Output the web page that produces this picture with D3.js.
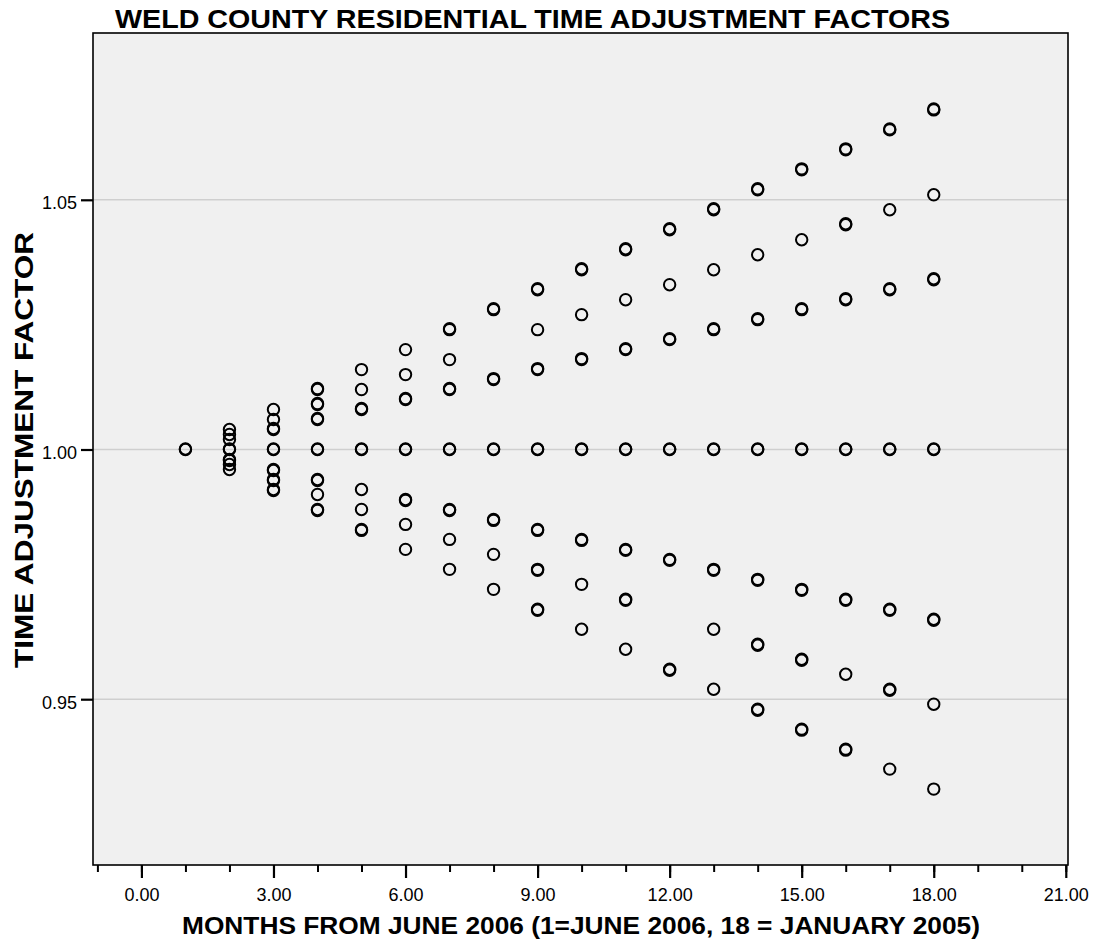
<!DOCTYPE html>
<html>
<head>
<meta charset="utf-8">
<script src="https://cdn.jsdelivr.net/npm/d3@7"></script>
<style>
  html, body { margin: 0; padding: 0; background: #ffffff; }
  svg { display: block; }
  text { font-family: Arial, "Liberation Sans", Helvetica, sans-serif; fill: #000; }
</style>
</head>
<body>
<svg id="chart" width="1096" height="943"></svg>
<script>
// ---- Data ----
const months = [1, 2, 3, 4, 5, 6, 7, 8, 9, 10, 11, 12, 13, 14, 15, 16, 17, 18];

const seriesUpperHigh = [null, 1.004, 1.008, 1.012, 1.016, 1.020, 1.024, 1.028, 1.032, 1.036, 1.040, 1.044, 1.048, 1.052, 1.056, 1.060, 1.064, 1.068];
const seriesUpperMid  = [null, 1.003, 1.006, 1.009, 1.012, 1.015, 1.018, null,  1.024, 1.027, 1.030, 1.033, 1.036, 1.039, 1.042, 1.045, 1.048, 1.051];
const seriesUpperLow  = [null, 1.002, 1.004, 1.006, 1.008, 1.010, 1.012, 1.014, 1.016, 1.018, 1.020, 1.022, 1.024, 1.026, 1.028, 1.030, 1.032, 1.034];
const seriesBase      = [1.000, 1.000, 1.000, 1.000, 1.000, 1.000, 1.000, 1.000, 1.000, 1.000, 1.000, 1.000, 1.000, 1.000, 1.000, 1.000, 1.000, 1.000];
const seriesLowerHigh = [null, 0.998, 0.996, 0.994, 0.992, 0.990, 0.988, 0.986, 0.984, 0.982, 0.980, 0.978, 0.976, 0.974, 0.972, 0.970, 0.968, 0.966];
const seriesLowerMid  = [null, 0.997, 0.994, 0.991, 0.988, 0.985, 0.982, 0.979, 0.976, 0.973, 0.970, null,  0.964, 0.961, 0.958, 0.955, 0.952, 0.949];
const seriesLowerLow  = [null, 0.996, 0.992, 0.988, 0.984, 0.980, 0.976, 0.972, 0.968, 0.964, 0.960, 0.956, 0.952, 0.948, 0.944, 0.940, 0.936, 0.932];

// repeated (near-identical) observations that make some markers look heavier: [month, value]
const repeatedObs = [
  [4,1.0122],[7,1.0242],[8,1.0282],[9,1.0322],[10,1.0362],[11,1.0402],[12,1.0442],[13,1.0482],[14,1.0522],[15,1.0562],[16,1.0602],[17,1.0642],[18,1.0682],
  [4,1.0092],[16,1.0452],
  [3,1.0042],[4,1.0062],[5,1.0082],[6,1.0102],[7,1.0122],[8,1.0142],[9,1.0162],[10,1.0182],[11,1.0202],[12,1.0222],[13,1.0242],[14,1.0262],[15,1.0282],[16,1.0302],[17,1.0322],[18,1.0342],
  [1,1.0001],[2,1.0001],[3,1.0001],[4,1.0001],[5,1.0001],[6,1.0001],[7,1.0001],[8,1.0001],[9,1.0001],[10,1.0001],[11,1.0001],[12,1.0001],[13,1.0001],[14,1.0001],[15,1.0001],[16,1.0001],[17,1.0001],[18,1.0001],
  [2,0.9978],[3,0.9958],[4,0.9938],[6,0.9898],[7,0.9878],[8,0.9858],[9,0.9838],[10,0.9818],[11,0.9798],[12,0.9778],[13,0.9758],[14,0.9738],[15,0.9718],[16,0.9698],[17,0.9678],[18,0.9658],
  [3,0.9938],[9,0.9758],[11,0.9698],[14,0.9608],[15,0.9578],[17,0.9518],
  [3,0.9918],[4,0.9878],[5,0.9838],[9,0.9678],[12,0.9558],[14,0.9478],[15,0.9438],[16,0.9398]
];

const xTickValues = [0, 3, 6, 9, 12, 15, 18, 21];
const xMinorTickValues = [-1, 0, 1, 2, 3, 4, 5, 6, 7, 8, 9, 10, 11, 12, 13, 14, 15, 16, 17, 18, 19, 20, 21];
const yTickValues = [0.95, 1.00, 1.05];

const titleText = "WELD COUNTY RESIDENTIAL TIME ADJUSTMENT FACTORS";
const xTitleText = "MONTHS FROM JUNE 2006 (1=JUNE 2006, 18 = JANUARY 2005)";
const yTitleText = "TIME ADJUSTMENT FACTOR";

// ---- Layout ----
const plot = { left: 93, top: 33, right: 1068, bottom: 865 };

const x = d3.scaleLinear().domain([-1.1, 21.05]).range([plot.left, plot.right]);
const y = d3.scaleLinear().domain([0.9168, 1.0834]).range([plot.bottom, plot.top]);

const svg = d3.select("#chart");

// plot background
svg.append("rect")
  .attr("x", plot.left).attr("y", plot.top)
  .attr("width", plot.right - plot.left).attr("height", plot.bottom - plot.top)
  .attr("fill", "#f0f0f0");

// gridlines
svg.append("g").selectAll("line").data(yTickValues).join("line")
  .attr("x1", plot.left).attr("x2", plot.right)
  .attr("y1", d => y(d)).attr("y2", d => y(d))
  .attr("stroke", "#cfcfcf").attr("stroke-width", 1.5);

// points
const allObs = [];
[seriesUpperHigh, seriesUpperMid, seriesUpperLow, seriesBase, seriesLowerHigh, seriesLowerMid, seriesLowerLow]
  .forEach(s => s.forEach((v, i) => { if (v !== null) allObs.push([months[i], v]); }));
repeatedObs.forEach(o => allObs.push(o));

svg.append("g").selectAll("circle").data(allObs).join("circle")
  .attr("cx", d => x(d[0])).attr("cy", d => y(d[1]))
  .attr("r", 5.7)
  .attr("fill", "none").attr("stroke", "#000").attr("stroke-width", 2);

// frame
svg.append("rect")
  .attr("x", plot.left).attr("y", plot.top)
  .attr("width", plot.right - plot.left).attr("height", plot.bottom - plot.top)
  .attr("fill", "none").attr("stroke", "#000").attr("stroke-width", 1.6);

// y axis
const yAxis = d3.axisLeft(y).tickValues(yTickValues).tickSize(12).tickPadding(4)
  .tickFormat(d3.format(".2f"));
const gy = svg.append("g").attr("transform", `translate(${plot.left},0)`).call(yAxis);
gy.select(".domain").remove();
gy.selectAll(".tick line").attr("stroke", "#000").attr("stroke-width", 2.2);
gy.selectAll(".tick text").attr("font-size", 18).attr("fill", "#111")
  .attr("font-family", "Arial, 'Liberation Sans', sans-serif").attr("dy", "0.5em");

// x axis minor ticks
const xMinor = d3.axisBottom(x).tickValues(xMinorTickValues).tickSize(7).tickFormat("");
const gxm = svg.append("g").attr("transform", `translate(0,${plot.bottom})`).call(xMinor);
gxm.select(".domain").remove();
gxm.selectAll(".tick line").attr("stroke", "#000").attr("stroke-width", 2);

// x axis major ticks
const xAxis = d3.axisBottom(x).tickValues(xTickValues).tickSize(13).tickPadding(10)
  .tickFormat(d3.format(".2f"));
const gx = svg.append("g").attr("transform", `translate(0,${plot.bottom})`).call(xAxis);
gx.select(".domain").remove();
gx.selectAll(".tick line").attr("stroke", "#000").attr("stroke-width", 2.2);
gx.selectAll(".tick text").attr("font-size", 18).attr("fill", "#111")
  .attr("font-family", "Arial, 'Liberation Sans', sans-serif");

// titles
svg.append("text")
  .attr("x", 115).attr("y", 28)
  .attr("font-size", 26.5).attr("font-weight", "bold")
  .attr("textLength", 835).attr("lengthAdjust", "spacingAndGlyphs")
  .text(titleText);

svg.append("text")
  .attr("x", 182).attr("y", 934)
  .attr("font-size", 24.5).attr("font-weight", "bold")
  .attr("textLength", 798).attr("lengthAdjust", "spacingAndGlyphs")
  .text(xTitleText);

svg.append("text")
  .attr("transform", "translate(33,450) rotate(-90)")
  .attr("text-anchor", "middle")
  .attr("font-size", 26.5).attr("font-weight", "bold")
  .attr("textLength", 436).attr("lengthAdjust", "spacingAndGlyphs")
  .text(yTitleText);
</script>
</body>
</html>
